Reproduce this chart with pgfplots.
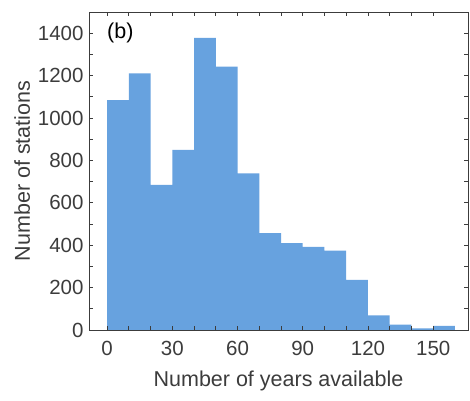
\documentclass[border=0pt]{standalone}
\usepackage{pgfplots}
\pgfplotsset{compat=1.18}
\usepackage{fontspec}
\setmainfont{Liberation Sans}
\definecolor{barblue}{RGB}{103,162,223}
\definecolor{axgray}{RGB}{60,60,60}
\begin{document}
\begin{tikzpicture}
\begin{axis}[
  scale only axis,
  width=379pt, height=318pt,
  xmin=-8.3, xmax=166, ymin=0, ymax=1500,
  axis line style={axgray, line width=0.8pt},
  tick style={axgray, line width=0.7pt},
  major tick length=4pt, minor tick length=4pt,
  tick align=inside,
  xtick={0,30,...,150}, minor x tick num=2,
  ytick={0,200,...,1400}, minor y tick num=1,
  /pgf/number format/assume math mode=true,
  /pgf/number format/1000 sep={},
  ticklabel style={font=\fontsize{20.5}{24}\selectfont, text=axgray},
  xticklabel style={yshift=-8pt},
  yticklabel style={xshift=-2pt},
  xlabel={Number of years available},
  ylabel={Number of stations},
  label style={font=\fontsize{21.5}{25}\selectfont, text=axgray},
  xlabel style={at={(axis description cs:0.5,-0.1792)}, anchor=base},
  ylabel style={at={(axis description cs:-0.1557,0.5)}, anchor=base},
  clip=false,
  axis on top,
]
\addplot[ybar interval, fill=barblue, draw=none]
coordinates {
(0,1084) (10,1210) (20,684) (30,850) (40,1378) (50,1242) (60,739) (70,457)
(80,410) (90,392) (100,375) (110,236) (120,69) (130,25) (140,8) (150,19) (160,19)
};
\node[anchor=west, font=\fontsize{21.5}{25}\selectfont, text=black, inner sep=0pt] at (axis cs:0,1400) {(b)};
\end{axis}
\path (current axis.south west) ++(-89pt,-70pt) coordinate (bbA);
\path (current axis.south west) ++(381pt,330pt) coordinate (bbB);
\useasboundingbox (bbA) rectangle (bbB);
\end{tikzpicture}
\end{document}
